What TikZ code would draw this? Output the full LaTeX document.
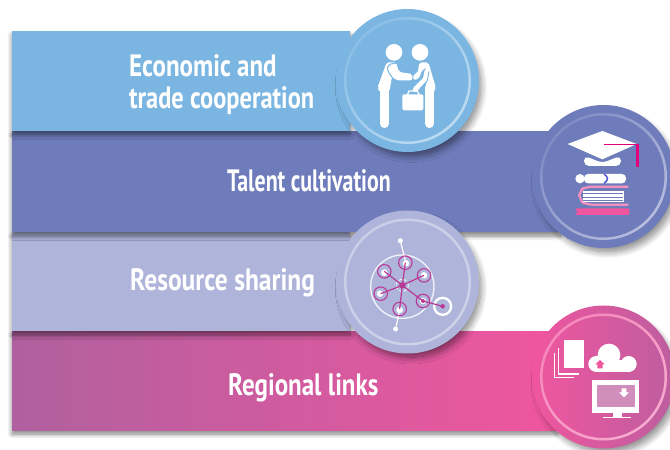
\documentclass[tikz,border=0pt]{standalone}
\usepackage{fontspec}
\setmainfont{PT Sans}
\usetikzlibrary{shadows.blur,calc}
\definecolor{cblue}{HTML}{7BB6E2}
\definecolor{cindigo}{HTML}{6F7CBB}
\definecolor{clav}{HTML}{AEB4DA}
\definecolor{cpinkL}{HTML}{B0609F}
\definecolor{cpinkR}{HTML}{F0569F}
\definecolor{cmag}{HTML}{B93A96}
\definecolor{chot}{HTML}{E5007E}
\tikzset{
  x=1bp,y=-1bp,
  band/.style={minimum width=#1,minimum height=100bp,anchor=north west,inner sep=0pt,outer sep=0pt,draw=none,
     blur shadow={shadow xshift=0bp,shadow yshift=-4bp,shadow blur radius=4.5bp,shadow opacity=50,shadow blur steps=10}},
  disc/.style={circle,minimum size=143bp,inner sep=0pt,draw=none,
     blur shadow={shadow xshift=4bp,shadow yshift=-6bp,shadow scale=.97,shadow blur radius=7bp,shadow opacity=50,shadow blur steps=12}},
  ringband/.style 2 args={even odd rule,top color=#1,bottom color=#2,shading angle=45},
  label/.style={text=white,font=\bfseries\fontsize{31}{32}\selectfont,align=left,inner sep=0pt,anchor=base west},
  wh/.style={fill=white,draw=none},
  limb/.style={draw=white,line width=9.5bp,line cap=round},
  lnk/.style={draw=cmag,line width=1.2bp},
  sat/.style={circle,draw=cmag,line width=1.1bp,fill=none,minimum size=13.5bp,inner sep=0pt},
  dot/.style={circle,fill=white,minimum size=6.5bp,inner sep=0pt},
}
\begin{document}
\begin{tikzpicture}
\useasboundingbox (0,0) rectangle (670,450);
% bands, lowest first so each one shades the next
\node[band=545bp,left color=cpinkL,right color=cpinkR,minimum height=99bp] (b4) at (12,331) {};
\node[band=338bp,fill=clav,minimum height=99bp] (b3) at (12,232) {};
\node[band=548bp,fill=cindigo,minimum height=101bp] (b2) at (12,131) {};
\node[band=338bp,fill=cblue] (b1) at (12,31) {};
% discs
\node[disc,fill=cblue] (d1) at (407.5,80.5) {};
\shade[ringband={cblue!88!white}{cblue!50!white}] (d1) circle (63.5) circle (61);
\node[disc,fill=cindigo] (d2) at (603.5,176.5) {};
\shade[ringband={cindigo!88!white}{cindigo!50!white}] (d2) circle (63.5) circle (61);
\node[disc,fill=clav] (d3) at (407.5,282) {};
\shade[ringband={clav!65!white}{clav!60!white}] (d3) circle (63.5) circle (61);
\node[disc,left color=cpinkR,right color=cpinkL!80!cpinkR] (d4) at (603.5,377) {};
\shade[ringband={cpinkR!70!white}{cpinkR!50!white}] (d4) circle (63.5) circle (61);
% labels
\node[label,xscale=.81] (t1) at (129,77) {Economic and};
\node[label,xscale=.79] (t1b) at (129,109) {trade cooperation};
\node[label,xscale=.71] (t2) at (227,192) {Talent cultivation};
\node[label,xscale=.825] (t3) at (130,291) {Resource sharing};
\node[label,xscale=.81] (t4) at (228,395) {Regional links};
% icon 1: handshake
\begin{scope}[shift={(330,0)},scale=1/3]
\fill[wh] (192,157) circle (25);
\fill[wh] (270,157) circle (25);
\draw[limb] (163,265) -- (163,370);
\draw[limb] (298,265) -- (298,370);
\fill[wh,rounded corners=2bp] (170,187) -- (198,187) -- (207,216) -- (247,222) -- (247,241) -- (200,241) -- (186,230) -- (178,275) -- (148,275) -- (148,268) -- (142,264) -- cycle;
\draw[cblue,line width=1bp] (197,191) .. controls (172,188) and (160,205) .. (192,238);
\fill[wh,rounded corners=2bp] (268,187) -- (295,187) -- (318,264) -- (312,268) -- (312,275) -- (284,275) -- (294,225) -- (290,204) -- (278,207) -- (266,237) -- (250,240) -- (250,222) -- (263,220) -- cycle;
\draw[white,line width=5bp,line cap=round] (291,214) -- (286,238) -- (256,268);
\draw[cblue,line width=.9bp] (297,214) -- (292,242) -- (270,266);
\fill[wh,rounded corners=1.5bp] (217,283) rectangle (280,331);
\draw[white,line width=1.3bp] (232,285) -- (237,273) -- (262,273) -- (268,285);
\end{scope}
% icon 2: cap and books
\begin{scope}[shift={(520,100)},scale=1/3]
\fill[wh] (143,132) -- (247,93) -- (350,132) -- (247,178) -- cycle;
\fill[wh,rounded corners=5bp] (192,167) -- (247,189) -- (303,167) -- (303,198) -- (192,198) -- cycle;
\draw[chot,line width=.8bp] (252,132) -- (352,132);
\draw[chot,line width=2.6bp] (352,131) -- (352,200);
\fill[wh,rounded corners=4bp] (192,222) rectangle (318,250);
\fill[wh] (180,236) circle (14);
\draw[cindigo!70!blue,line width=1.5bp] (252,222) .. controls (266,232) and (266,240) .. (252,250);
\draw[cpinkR!65!white,line width=2.2bp,rounded corners=6bp] (325,260) -- (198,260) -- (178,272) -- (178,300) -- (198,314) -- (325,314);
\fill[wh] (190,272) rectangle (312,305);
\draw[cindigo,line width=.9bp] (190,281) -- (310,281) (190,291) -- (310,291) (190,300) -- (310,300);
\fill[cpinkR,rounded corners=1bp] (165,325) -- (328,325) -- (328,345) -- (165,345) -- (173,335) -- cycle;
\end{scope}
% icon 3: network
\begin{scope}[shift={(330,205)},scale=1/3]
\draw[white!80!clav,line width=1.4bp] (217,245) circle (95);
\node[dot,minimum size=5bp] (u) at (211,107) {};
\node[dot,minimum size=5bp] (l) at (197,372) {};
\node[dot] (w1) at (228,175) {};
\node[dot] (w2) at (163,203) {};
\node[dot] (w3) at (282,211) {};
\node[dot] (w4) at (150,266) {};
\node[dot] (w5) at (209,315) {};
\node[dot] (w6) at (279,288) {};
\draw[white,line width=1.2bp] (u) -- (w1) (l) -- (w5);
\node[sat] (n1) at (226,173) {};
\node[sat] (n2) at (163,199) {};
\node[sat] (n3) at (282,211) {};
\node[sat] (n4) at (152,266) {};
\node[sat] (n5) at (209,312) {};
\node[sat] (n6) at (279,288) {};
\node[circle,draw=white,line width=2.3bp,minimum size=17bp,inner sep=0pt] (z) at (338,304) {};
\node[circle,fill=cmag,minimum size=4.5bp,inner sep=0pt] (zc) at (z) {};
\node[circle,fill=cmag,minimum size=4bp,inner sep=0pt] (a6) at (n6) {};
\node[circle,draw=white,densely dashed,line width=.8bp,minimum size=12bp,inner sep=0pt] (hr) at (217,241) {};
\node[circle,fill=cmag,minimum size=6.5bp,inner sep=0pt] (m0) at (hr) {};
\foreach \n in {n1,n2,n3,n4,n5,a6} \draw[lnk] (m0.center) -- (\n.center);
\draw[lnk] (a6.center) -- (zc.center);
\end{scope}
% icon 4: files, cloud, monitor
\begin{scope}[shift={(520,300)},scale=1/3]
\fill[wh] (132,120) rectangle (192,205);
\draw[white,line width=1.1bp] (115,143) -- (115,222) -- (178,222);
\draw[white,line width=1.1bp] (103,158) -- (103,232) -- (162,232);
\fill[wh] (229,192) circle (24);
\fill[wh] (267,165) circle (34);
\fill[wh] (326,192) circle (24);
\fill[wh] (229,180) rectangle (326,216);
\fill[cpinkR] (226,193) -- (240,180) -- (254,193) -- (248,193) -- (248,205) -- (232,205) -- (232,193) -- cycle;
\fill[wh] (217,240) rectangle (358,338);
\fill[cpinkL!65!white!85!cpinkR] (230,255) rectangle (345,322);
\fill[wh] (305,265) -- (319,265) -- (319,277) -- (327,277) -- (312,292) -- (297,277) -- (305,277) -- cycle;
\fill[wh] (278,336) rectangle (306,350);
\fill[wh] (250,350) rectangle (334,355);
\end{scope}
\end{tikzpicture}
\end{document}
